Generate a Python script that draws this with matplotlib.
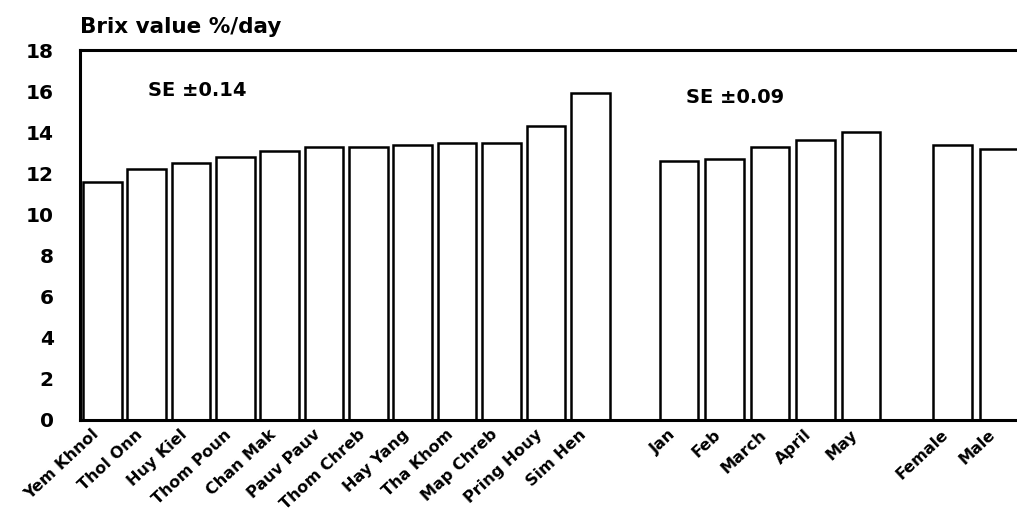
import matplotlib
matplotlib.use("Agg")
import matplotlib.pyplot as plt
import matplotlib.transforms as mtransforms
import numpy as np

plt.rcParams['font.family'] = ['DejaVu Sans']
plt.rcParams['font.weight'] = 'bold'

varieties = ["Yem Khnol", "Thol Onn", "Huy Kiel", "Thom Poun", "Chan Mak", "Pauv Pauv",
             "Thom Chreb", "Hay Yang", "Tha Khom", "Map Chreb", "Pring Houy", "Sim Hen"]
variety_brix = [11.6, 12.2, 12.5, 12.8, 13.1, 13.3, 13.3, 13.4, 13.5, 13.5, 14.3, 15.9]

months = ["Jan", "Feb", "March", "April", "May"]
month_brix = [12.6, 12.7, 13.3, 13.6, 14.0]

sexes = ["Female", "Male"]
sex_brix = [13.4, 13.2]

se_variety = "SE \u00b10.14"
se_month = "SE \u00b10.09"

# bar slots: three groups separated by an empty slot
x_var = np.arange(len(varieties), dtype=float)
x_mon = 13 + 1.025 * np.arange(len(months))
x_sex = np.array([19.16, 20.22])

labels = varieties + months + sexes
xs = np.concatenate([x_var, x_mon, x_sex])
vals = variety_brix + month_brix + sex_brix

fig = plt.figure(figsize=(10.17, 5.15), dpi=100)
ax = fig.add_axes([0.0787, 0.1845, 0.9213, 0.7184])

ax.bar(xs, vals, width=0.87, color="white", edgecolor="black", linewidth=1.8)

ax.set_xlim(-0.5, 20.62)
ax.set_ylim(0, 18)
ax.set_yticks(np.arange(0, 19, 2))
ax.tick_params(axis="y", length=0, labelsize=14.5, pad=19)
ax.tick_params(axis="x", length=0, pad=5)
ax.set_xticks(xs)
ax.set_xticklabels(labels, rotation=43, ha="right", va="top",
                   rotation_mode="anchor", fontsize=11.5, fontweight="bold")
shift = mtransforms.ScaledTranslation(-11 / 100, 0, fig.dpi_scale_trans)
for lab in ax.get_xticklabels():
    lab.set_transform(lab.get_transform() + shift)
for lab in ax.get_yticklabels():
    lab.set_fontweight("bold")
    lab.set_horizontalalignment("right")

for side in ["left", "top", "bottom"]:
    ax.spines[side].set_linewidth(2.2)
ax.spines["right"].set_visible(False)

ax.text(1.03, 16.05, se_variety, fontsize=14, fontweight="bold", va="center", ha="left")
ax.text(13.16, 15.7, se_month, fontsize=14, fontweight="bold", va="center", ha="left")

fig.text(0.079, 0.947, "Brix value %/day", fontsize=15.5, fontweight="bold", va="center", ha="left")

fig.savefig("out.png", dpi=100)
